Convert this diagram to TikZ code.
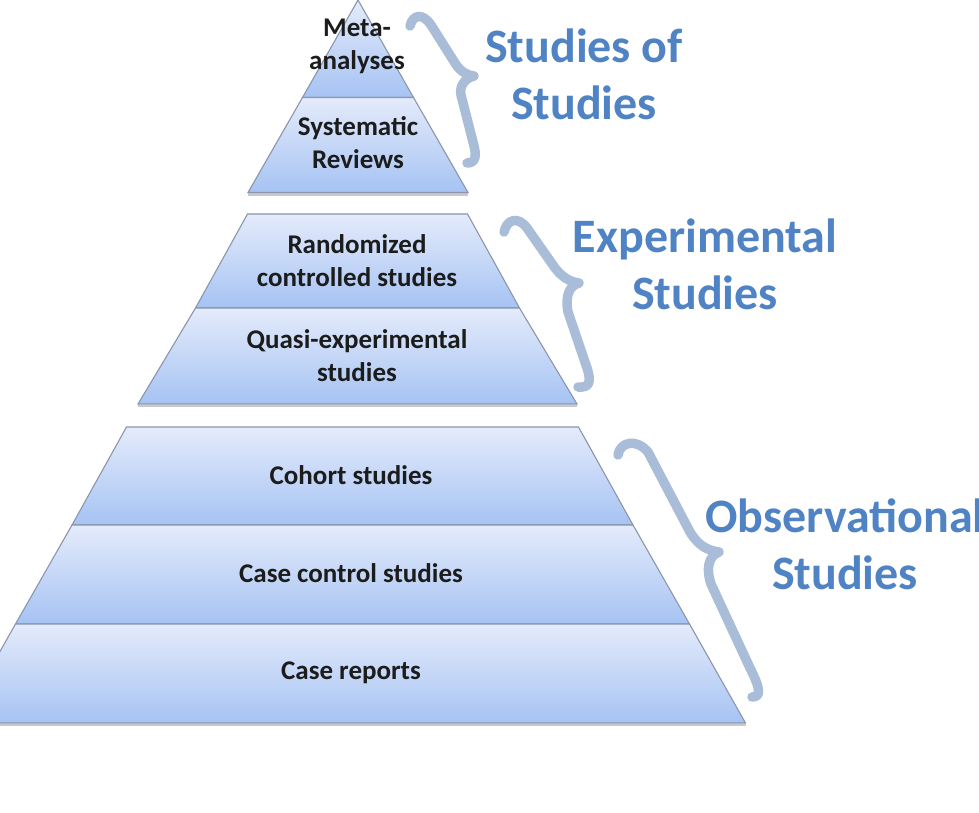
\documentclass[tikz,border=0pt]{standalone}
\usepackage{fontspec}
\setmainfont{Carlito}
\definecolor{bandtop}{RGB}{228,235,251}
\definecolor{bandmid}{RGB}{204,220,247}
\definecolor{bandbot}{RGB}{166,195,243}
\definecolor{bandedge}{RGB}{138,150,172}
\definecolor{bracecol}{RGB}{169,189,217}
\definecolor{labelblue}{RGB}{80,131,196}
\definecolor{ptextcol}{RGB}{28,28,28}
\newcommand\pyrband[5]{%
  \shade[top color=bandtop, middle color=bandmid, bottom color=bandbot]
    ({#5-#2},#1) -- ({#5+#2},#1) -- ({#5+#4},#3) -- ({#5-#4},#3) -- cycle;
  \draw[bandline] ({#5-#2},#1) -- ({#5+#2},#1) -- ({#5+#4},#3) -- ({#5-#4},#3) -- cycle;}
\newcommand\pyrshadow[3]{%
  \draw[shadowline] ({#3-#2},#1+2) -- ({#3+#2},#1+2);}
\begin{document}
\begin{tikzpicture}[x=1pt,y=-1pt,
  bandline/.style={draw=bandedge, line width=1.1pt, line join=miter},
  shadowline/.style={draw=black!35, line width=2.5pt, opacity=0.6},
  bracestroke/.style={draw=bracecol, line width=9.5pt, line cap=round, line join=round},
  ptext/.style={font=\bfseries\fontsize{27}{33}\selectfont, text=ptextcol, align=center, inner sep=0pt},
  ltext/.style={font=\bfseries\fontsize{48}{57}\selectfont, text=labelblue, align=center, inner sep=0pt, anchor=base}]
\useasboundingbox (0,0) rectangle (979,812);
\fill[white] (0,0) rectangle (979,812);
% group 1
\pyrshadow{192.5}{110}{358}
\pyrband{0}{0}{97.5}{55.5}{358}
\pyrband{97.5}{55.5}{192.5}{110}{358}
% group 2
\pyrshadow{404}{219.5}{357.5}
\pyrband{214}{110}{308}{162}{357.5}
\pyrband{308}{162}{404}{219.5}{357.5}
% group 3
\pyrshadow{723}{393}{352.5}
\pyrband{427}{226}{525}{280.5}{352.5}
\pyrband{525}{280.5}{624}{337}{352.5}
\pyrband{624}{337}{723}{393}{352.5}
% pyramid texts
\node[ptext] (meta) at (357,46) {Meta-\\analyses};
\node[ptext] (sys) at (358,143) {Systematic\\Reviews};
\node[ptext] (rct) at (357,261) {Randomized\\controlled studies};
\node[ptext] (quasi) at (357,356) {Quasi-experimental\\studies};
\node[ptext] (cohort) at (351,475) {Cohort studies};
\node[ptext] (cc) at (351,573) {Case control studies};
\node[ptext] (cr) at (351,673) {Case reports};
% braces
\draw[bracestroke] (410,26) .. controls (413,14) and (423,13) .. (431,25)
  -- (455,63) .. controls (460,71) and (466,75) .. (474,76)
  .. controls (466,78) and (459,85) .. (461,95)
  -- (473,142) .. controls (477,156) and (476,163) .. (467,163);
\draw[bracestroke] (504,232) .. controls (507,219) and (518,216) .. (527,228)
  -- (555,268) .. controls (562,277) and (570,282) .. (579,283)
  .. controls (569,286) and (565,296) .. (568,312)
  -- (586,365) .. controls (592,382) and (590,388) .. (578,387);
\draw[bracestroke] (618,455) .. controls (620,442) and (636,438) .. (648,452)
  -- (690,532) .. controls (698,545) and (706,550) .. (719,552)
  .. controls (708,556) and (706,570) .. (711,584)
  -- (750,668) .. controls (760,688) and (762,697) .. (752,697);
% labels (anchored at the baseline of the last line)
\node[ltext] (sos) at (584,119) {Studies of\\Studies};
\node[ltext] (exp) at (705,309) {Experimental\\Studies};
\node[ltext] (obs) at (845,589) {Observational\\Studies};
\end{tikzpicture}
\end{document}
